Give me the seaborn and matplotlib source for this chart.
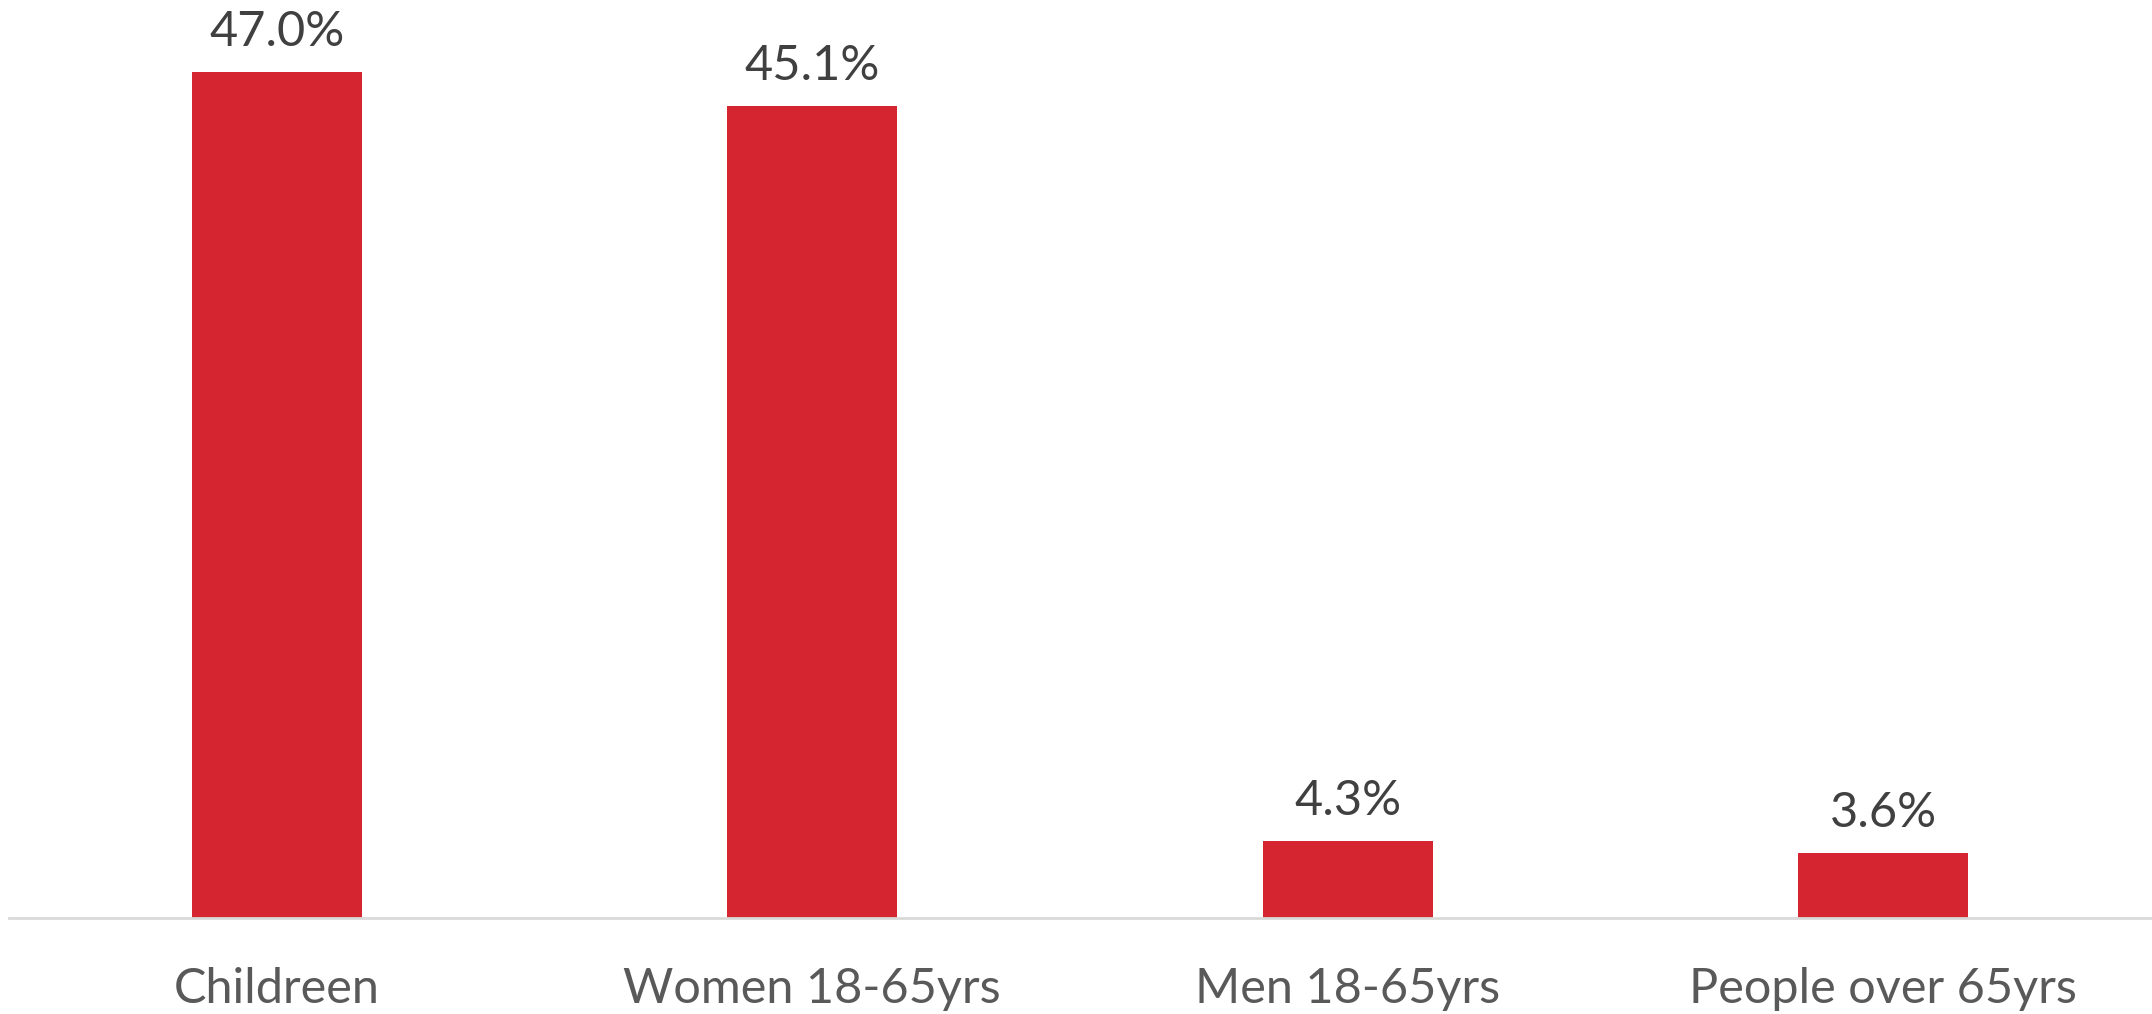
import matplotlib
matplotlib.use("Agg")
import matplotlib.pyplot as plt
import seaborn as sns
import pandas as pd

categories = ["Childreen", "Women 18-65yrs", "Men 18-65yrs", "People over 65yrs"]
shares = [47.0, 45.1, 4.3, 3.6]
value_labels = ["47.0%", "45.1%", "4.3%", "3.6%"]

df = pd.DataFrame({"group": categories, "share": shares})

sns.set_theme(style="white")
plt.rcParams["font.family"] = ["Lato", "DejaVu Sans"]

fig = plt.figure(figsize=(21.52, 10.14), dpi=100)
ax = fig.add_axes([9 / 2152, 1 - 918.3 / 1014, 2142 / 2152, 918.3 / 1014])

sns.barplot(data=df, x="group", y="share", color="#D42530", width=0.3175,
            saturation=1, ax=ax, edgecolor="none")

ax.set_xlim(-0.5, 3.5)
ax.set_ylim(0, 51)

# value labels above each bar
for patch, lab in zip(ax.patches, value_labels):
    ax.annotate(lab, (patch.get_x() + patch.get_width() / 2, patch.get_height()),
                xytext=(0, 26), textcoords="offset pixels",
                ha="center", va="baseline", fontsize=35, color="#404040")

ax.set_xlabel("")
ax.set_ylabel("")
ax.set_yticks([])
ax.tick_params(axis="x", length=0, pad=35, labelsize=35, labelcolor="#595959")
for side in ["top", "left", "right"]:
    ax.spines[side].set_visible(False)
ax.spines["bottom"].set_color("#D9D9D9")
ax.spines["bottom"].set_linewidth(2)

fig.savefig("out.png", dpi=100, facecolor="white")
